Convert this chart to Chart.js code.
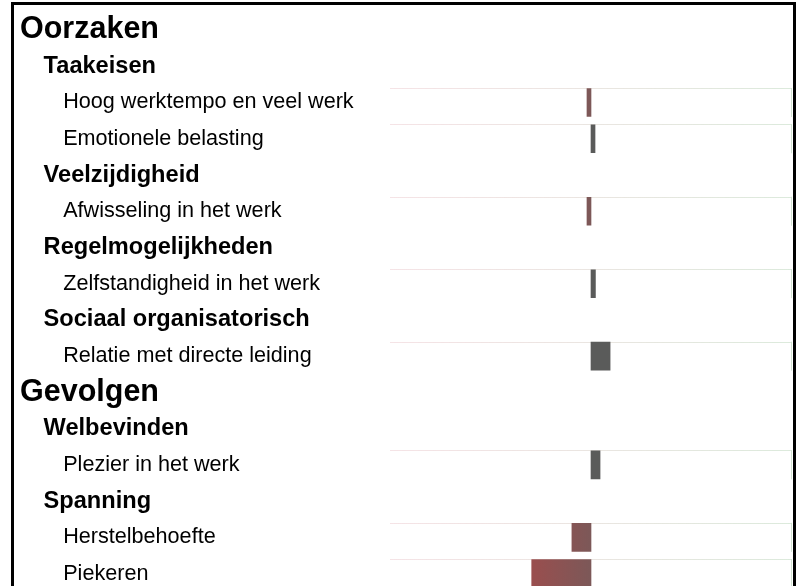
<!DOCTYPE html>
<html>
<head>
<meta charset="utf-8">
<script src="https://cdn.jsdelivr.net/npm/chart.js@4"></script>
<style>
    html, body { margin: 0; padding: 0; background: #fff; overflow: hidden; }
    #frame {
        position: absolute; left: 11px; top: 2px;
        width: 779px; height: 620px;
        border: 3px solid #000; border-bottom: none;
    }
    #scoreChart { display: block; margin-top: -6px; }
</style>
</head>
<body>
<div id="frame"><canvas id="scoreChart" width="779" height="611"></canvas></div>
<script>
// rows of the chart, top to bottom
const rowLabels = [
    'Oorzaken',
    'Taakeisen',
    'Hoog werktempo en veel werk',
    'Emotionele belasting',
    'Veelzijdigheid',
    'Afwisseling in het werk',
    'Regelmogelijkheden',
    'Zelfstandigheid in het werk',
    'Sociaal organisatorisch',
    'Relatie met directe leiding',
    'Gevolgen',
    'Welbevinden',
    'Plezier in het werk',
    'Spanning',
    'Herstelbehoefte',
    'Piekeren'
];
// 0 = main heading, 1 = group, 2 = item
const rowLevels = [0, 1, 2, 2, 1, 2, 1, 2, 1, 2, 0, 1, 2, 1, 2, 2];
// score relative to the benchmark (headings have no bar)
const scores = [null, null, -2, 2, null, -2, null, 2.2, null, 9.5, null, null, 4.5, null, -9.5, -29.5];
const scoreMin = -100;
const scoreMax = 100;

const indent = ['', '\u2002\u2002', '\u2002\u2002\u2002\u2002'];
const fonts = [
    { family: '"Liberation Sans", Arial, sans-serif', size: 30.5, weight: 'bold' },
    { family: '"Liberation Sans", Arial, sans-serif', size: 23.6, weight: 'bold' },
    { family: '"Liberation Sans", Arial, sans-serif', size: 21.6, weight: 'normal' }
];

// faint box lines behind each item row
const rowLines = {
    id: 'rowLines',
    beforeDatasetsDraw(chart) {
        const { ctx, chartArea, scales } = chart;
        const y = scales.y;
        const half = 14.5;
        const grad = ctx.createLinearGradient(chartArea.left, 0, chartArea.right, 0);
        grad.addColorStop(0, 'rgba(235, 200, 205, 0.5)');
        grad.addColorStop(1, 'rgba(205, 225, 205, 0.7)');
        ctx.save();
        ctx.lineWidth = 1;
        rowLevels.forEach((lvl, i) => {
            if (lvl !== 2) return;
            const cy = y.getPixelForValue(i);
            ctx.strokeStyle = grad;
            ctx.beginPath();
            ctx.moveTo(chartArea.left, Math.round(cy - half) + 0.5);
            ctx.lineTo(chartArea.right, Math.round(cy - half) + 0.5);
            ctx.stroke();
            ctx.strokeStyle = 'rgba(205, 225, 205, 0.9)';
            ctx.beginPath();
            ctx.moveTo(chartArea.right - 0.5, cy - half);
            ctx.lineTo(chartArea.right - 0.5, cy + half);
            ctx.stroke();
        });
        ctx.restore();
    }
};

function barColor(context) {
    const v = context.raw;
    if (v === null || v >= 0) return '#5a5b5a';
    const chart = context.chart;
    const x = chart.scales.x;
    if (!x) return '#7b5858';
    const grad = chart.ctx.createLinearGradient(x.getPixelForValue(-30), 0, x.getPixelForValue(0), 0);
    grad.addColorStop(0, 'rgb(154, 78, 78)');
    grad.addColorStop(1, 'rgb(124, 88, 88)');
    return grad;
}

const ctx = document.getElementById('scoreChart').getContext('2d');
const scoreChart = new Chart(ctx, {
    type: 'bar',
    data: {
        labels: rowLabels,
        datasets: [{
            data: scores,
            backgroundColor: barColor,
            borderWidth: 0,
            barThickness: 28
        }]
    },
    plugins: [rowLines],
    options: {
        indexAxis: 'y',
        responsive: false,
        animation: false,
        layout: { padding: { left: 6, top: 5, right: 1, bottom: 0 } },
        plugins: {
            legend: { display: false },
            tooltip: { enabled: false }
        },
        scales: {
            x: {
                display: false,
                min: scoreMin,
                max: scoreMax
            },
            y: {
                grid: { display: false },
                border: { display: false },
                afterFit(scale) { scale.width = 370; },
                ticks: {
                    autoSkip: false,
                    crossAlign: 'far',
                    color: '#000',
                    padding: 0,
                    callback: (val, i) => indent[rowLevels[i]] + rowLabels[i],
                    font: (c) => fonts[rowLevels[c.index]]
                }
            }
        }
    }
});
</script>
</body>
</html>
